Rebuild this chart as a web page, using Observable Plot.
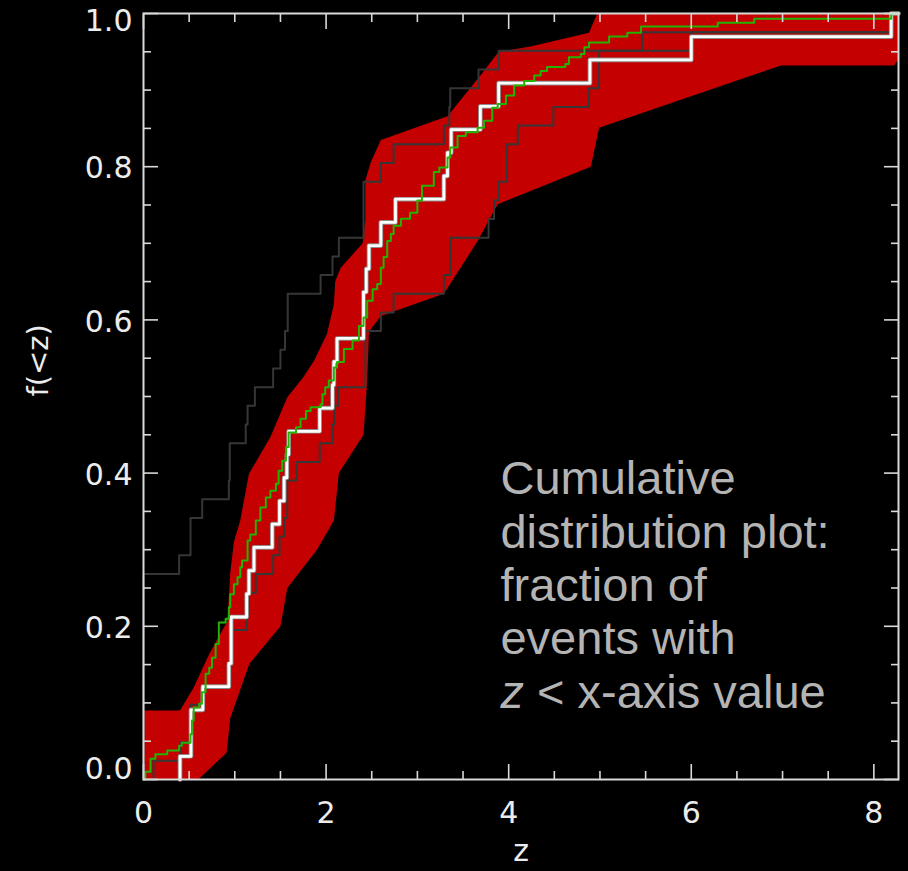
<!DOCTYPE html>
<html>
<head>
<meta charset="utf-8">
<script src="https://cdn.jsdelivr.net/npm/d3@7"></script>
<script src="https://cdn.jsdelivr.net/npm/@observablehq/plot@0.6"></script>
<style>
  html, body { margin: 0; padding: 0; background: #000; }
  #chart { width: 908px; height: 871px; }
</style>
</head>
<body>
<div id="chart"></div>
<script>
// ---------- tick values ----------
const xTicks = [0, 2, 4, 6, 8];
const xMinorTicks = [0.5, 1, 1.5, 2.5, 3, 3.5, 4.5, 5, 5.5, 6.5, 7, 7.5];
const yTicksMid = [0.2, 0.4, 0.6, 0.8];
const yTickTop = [1.0];
const yTickBottom = [0.0];
const yMinorTicks = [0.05, 0.1, 0.15, 0.25, 0.3, 0.35, 0.45, 0.5, 0.55, 0.65, 0.7, 0.75, 0.85, 0.9, 0.95];
const xMax = 8.27;

// ---------- observed events (white CDF, N = 33) ----------
const whiteEventsZ = [0.40, 0.52, 0.52, 0.65, 0.935, 0.96, 0.96, 1.13, 1.155, 1.21, 1.41, 1.49, 1.54,
  1.57, 1.59, 1.93, 2.07, 2.085, 2.12, 2.41, 2.41, 2.44, 2.47, 2.60, 2.76, 3.29, 3.33, 3.37,
  3.69, 3.89, 4.89, 6.0, 8.19];

// ---------- dark comparison CDFs (N = 41) ----------
const leftDarkEventsZ = [0, 0, 0, 0, 0, 0, 0, 0, 0, 0, 0, 0.39, 0.515, 0.515, 0.643, 0.935, 0.945, 0.945,
  1.12, 1.14, 1.22, 1.42, 1.50, 1.55, 1.58, 1.58, 1.94, 2.07, 2.14, 2.41, 2.41, 2.41, 2.60, 2.74,
  3.29, 3.35, 3.36, 3.67, 3.89, 6.0, 8.19];
const rightDarkEventsZ = [0.11, 0.40, 0.515, 0.515, 0.65, 0.935, 0.96, 0.96, 1.13, 1.155, 1.23, 1.42,
  1.49, 1.54, 1.575, 1.575, 1.68, 1.93, 2.07, 2.09, 2.13, 2.43, 2.43, 2.43, 2.60, 2.74, 3.29, 3.36,
  3.36, 3.78, 3.84, 3.89, 3.98, 3.98, 4.10, 4.49, 4.88, 4.99, 4.99, 5.46, 8.19];

// ---------- green model CDF ----------
const greenZ = [0, 0.02, 0.077, 0.13, 0.26, 0.39, 0.42, 0.515, 0.53, 0.55, 0.61, 0.64, 0.68, 0.72, 0.75,
  0.79, 0.825, 0.90, 0.935, 0.95, 0.99, 1.03, 1.06, 1.08, 1.14, 1.17, 1.23, 1.28, 1.34, 1.39, 1.45,
  1.48, 1.52, 1.56, 1.59, 1.67, 1.72, 1.78, 1.83, 1.94, 1.96, 1.99, 2.03, 2.085, 2.12, 2.195, 2.29,
  2.36, 2.41, 2.45, 2.51, 2.56, 2.60, 2.63, 2.67, 2.71, 2.74, 2.82, 2.92, 3.0, 3.05, 3.18, 3.24,
  3.33, 3.36, 3.44, 3.53, 3.66, 3.73, 3.82, 3.88, 3.97, 4.06, 4.17, 4.28, 4.35, 4.42, 4.62, 4.66,
  4.79, 4.83, 4.88, 5.10, 5.30, 5.45, 6.29, 6.69, 8.19, 8.27];
const greenF = [0, 0.01, 0.027, 0.033, 0.038, 0.044, 0.048, 0.059, 0.077, 0.094, 0.099, 0.114, 0.138,
  0.146, 0.159, 0.177, 0.205, 0.21, 0.225, 0.242, 0.255, 0.264, 0.277, 0.286, 0.312, 0.32, 0.338,
  0.355, 0.368, 0.377, 0.386, 0.403, 0.416, 0.434, 0.453, 0.46, 0.471, 0.481, 0.486, 0.49, 0.503,
  0.512, 0.521, 0.538, 0.545, 0.562, 0.573, 0.592, 0.603, 0.625, 0.64, 0.647, 0.668, 0.682, 0.703,
  0.712, 0.723, 0.732, 0.74, 0.756, 0.775, 0.793, 0.799, 0.812, 0.825, 0.84, 0.845, 0.851, 0.86,
  0.877, 0.882, 0.893, 0.906, 0.912, 0.919, 0.925, 0.93, 0.934, 0.943, 0.947, 0.956, 0.962, 0.97,
  0.975, 0.983, 0.988, 0.993, 1.0, 1.0];

// ---------- red confidence band ----------
const bandUpperZ = [0, 0.40, 0.55, 0.72, 0.92, 0.95, 0.99, 1.06, 1.155, 1.39, 1.575, 1.75, 1.87, 2.01,
  2.085, 2.10, 2.16, 2.40, 2.43, 2.43, 2.49, 2.60, 3.33, 3.69, 3.89, 4.24, 4.88, 4.97, 8.27];
const bandUpperF = [0.09, 0.09, 0.12, 0.164, 0.207, 0.27, 0.31, 0.338, 0.399, 0.447, 0.499, 0.525,
  0.547, 0.582, 0.62, 0.65, 0.668, 0.70, 0.73, 0.782, 0.806, 0.835, 0.866, 0.919, 0.95, 0.957, 0.975,
  1.0, 1.0];
const bandLowerZ = [0, 0.60, 0.91, 0.95, 1.16, 1.50, 1.575, 1.90, 2.085, 2.14, 2.41, 2.45, 2.47, 2.60,
  3.29, 3.66, 3.88, 4.90, 4.99, 6.98, 8.22, 8.27];
const bandLowerF = [0, 0, 0.035, 0.08, 0.151, 0.20, 0.25, 0.30, 0.338, 0.40, 0.45, 0.52, 0.585, 0.605,
  0.634, 0.703, 0.751, 0.80, 0.851, 0.932, 0.932, 0.94];

const noteText = "Cumulative\ndistribution plot:\nfraction of\nevents with\nz < x-axis value";

// ---------- derived tables ----------
function cdf(events, n) {
  const s = [...events].sort((a, b) => a - b);
  const pts = [{z: s[0], f: 0}];
  s.forEach((z, i) => pts.push({z, f: (i + 1) / n}));
  pts.push({z: xMax, f: s.length / n});
  return pts;
}
const white = cdf(whiteEventsZ, 33);
const leftDark = cdf(leftDarkEventsZ, 41);
const rightDark = cdf(rightDarkEventsZ, 41);
const green = greenZ.map((z, i) => ({z, f: greenF[i]}));
const band = [
  ...bandUpperZ.map((z, i) => ({z, f: bandUpperF[i]})),
  ...bandLowerZ.map((z, i) => ({z, f: bandLowerF[i]})).reverse()
];

const axisColor = "#d9d9d9";
const labelColor = "#ececec";
const tickFont = {fontSize: 30, fontFamily: "DejaVu Sans, sans-serif", fill: labelColor};

const chart = Plot.plot({
  width: 908,
  height: 871,
  marginLeft: 143,
  marginRight: 10,
  marginTop: 13,
  marginBottom: 92,
  style: {background: "#000", color: axisColor, overflow: "visible"},
  x: {domain: [0, xMax], axis: null},
  y: {domain: [0, 1], axis: null},
  marks: [
    Plot.line(band, {x: "z", y: "f", fill: "#c40000", stroke: "none", curve: "linear"}),
    Plot.line(leftDark, {x: "z", y: "f", stroke: "#363636", strokeWidth: 2, curve: "step-after"}),
    Plot.line(rightDark, {x: "z", y: "f", stroke: "#363636", strokeWidth: 2, curve: "step-after"}),
    Plot.line(white, {x: "z", y: "f", stroke: "#8c8c8c", strokeWidth: 4.6, curve: "step-after"}),
    Plot.line(white, {x: "z", y: "f", stroke: "#ffffff", strokeWidth: 2.8, curve: "step-after"}),
    Plot.line(green, {x: "z", y: "f", stroke: "#22b400", strokeWidth: 2, curve: "step-after"}),
    Plot.text([noteText], {
      x: () => 3.91, y: () => 0.4215, text: d => d, textAnchor: "start", lineAnchor: "top",
      lineHeight: 1.134, fontSize: 47, fontFamily: "Liberation Sans, Arial, sans-serif", fill: "#b4b4b4"
    }),
    // frame and inward ticks
    Plot.frame({stroke: axisColor, strokeWidth: 2}),
    Plot.axisX(xTicks, {anchor: "bottom", tickSize: -15, fill: "none", strokeWidth: 1.6, label: null}),
    Plot.axisX(xMinorTicks, {anchor: "bottom", tickSize: -8, fill: "none", strokeWidth: 1.6, label: null}),
    Plot.axisX(xTicks, {anchor: "top", tickSize: -15, fill: "none", strokeWidth: 1.6, label: null}),
    Plot.axisX(xMinorTicks, {anchor: "top", tickSize: -8, fill: "none", strokeWidth: 1.6, label: null}),
    Plot.axisY([...yTickBottom, ...yTicksMid, ...yTickTop], {anchor: "left", tickSize: -15, fill: "none", strokeWidth: 1.6, label: null}),
    Plot.axisY(yMinorTicks, {anchor: "left", tickSize: -8, fill: "none", strokeWidth: 1.6, label: null}),
    Plot.axisY([...yTickBottom, ...yTicksMid, ...yTickTop], {anchor: "right", tickSize: -15, fill: "none", strokeWidth: 1.6, label: null}),
    Plot.axisY(yMinorTicks, {anchor: "right", tickSize: -8, fill: "none", strokeWidth: 1.6, label: null}),
    // tick labels
    Plot.axisX(xTicks, {anchor: "bottom", tickSize: 0, tickPadding: 22, label: null, tickFormat: d => String(d), ...tickFont}),
    Plot.axisY(yTicksMid, {anchor: "left", tickSize: 0, tickPadding: 11, label: null, tickFormat: d3.format(".1f"), dy: 2, ...tickFont}),
    Plot.axisY(yTickTop, {anchor: "left", tickSize: 0, tickPadding: 11, label: null, tickFormat: d3.format(".1f"), dy: 8, ...tickFont}),
    Plot.axisY(yTickBottom, {anchor: "left", tickSize: 0, tickPadding: 11, label: null, tickFormat: d3.format(".1f"), dy: -10, ...tickFont}),
    // axis titles
    Plot.text(["z"], {frameAnchor: "bottom", lineAnchor: "middle", dy: 72, text: d => d, fontSize: 30, fontFamily: "DejaVu Sans, sans-serif", fill: labelColor}),
    Plot.text(["f(<z)"], {frameAnchor: "left", lineAnchor: "middle", dx: -105, rotate: -90, text: d => d, fontSize: 29, fontFamily: "DejaVu Sans, sans-serif", fill: labelColor})
  ]
});

// italic "z" in the last annotation line
chart.querySelectorAll("text").forEach(t => {
  if (t.textContent.includes("x-axis value")) {
    const spans = t.querySelectorAll("tspan");
    const last = spans[spans.length - 1];
    if (last) {
      last.textContent = "";
      const it = document.createElementNS("http://www.w3.org/2000/svg", "tspan");
      it.setAttribute("font-style", "italic");
      it.textContent = "z";
      last.appendChild(it);
      last.appendChild(document.createTextNode(" < x-axis value"));
    }
  }
});

document.getElementById("chart").appendChild(chart);
</script>
</body>
</html>
